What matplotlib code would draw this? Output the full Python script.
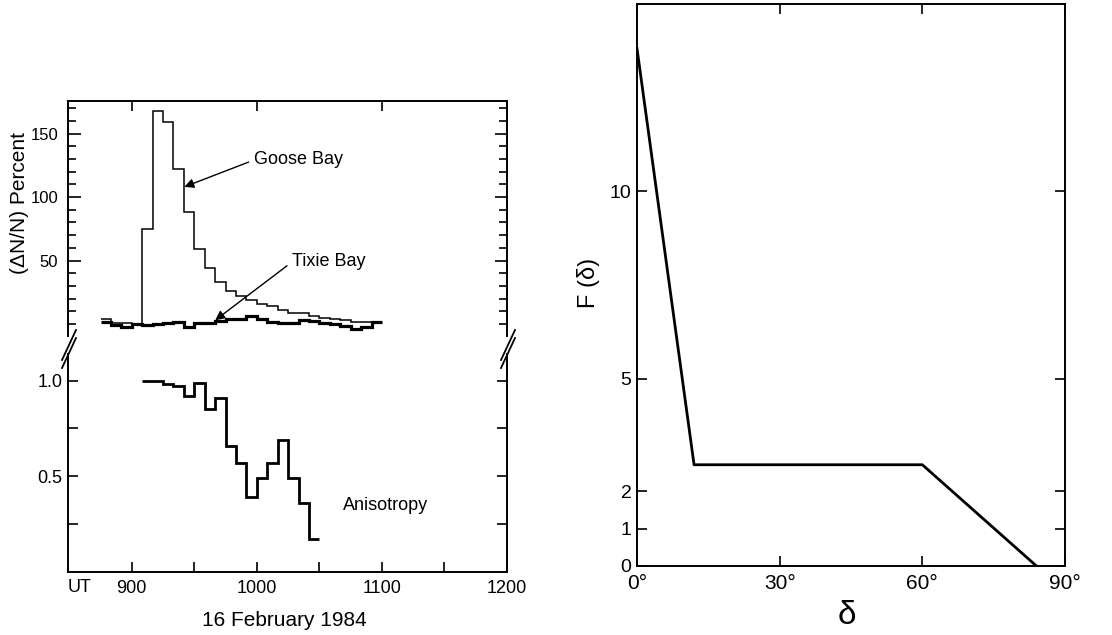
import numpy as np
import matplotlib
matplotlib.use("Agg")
import matplotlib.pyplot as plt
from matplotlib.lines import Line2D

plt.rcParams['font.family'] = ['Liberation Sans', 'DejaVu Sans']

# ---------------- data ----------------
bin_width_min = 5
rates_start_hour = 8.75            # 08:45 UT
goose_bay = [4, 1, 1, 0, 75, 168, 159, 122, 88, 59, 44, 33, 26, 22, 19, 16,
             14, 11, 9, 9, 6, 5, 4, 3, 2, 2, 2]
tixie_bay = [1.5, -1, -2, 0, -1, 0, 0.5, 1.5, -2, 1, 1, 2.5, 4, 4, 6.5, 4,
             2, 1, 0.5, 3, 2.5, 0.5, 0, -1.5, -4, -2.5, 1.5]
aniso_start_hour = 9 + 5 / 60      # 09:05 UT
anisotropy = [1.00, 1.00, 0.98, 0.97, 0.92, 0.99, 0.85, 0.91, 0.66, 0.57,
              0.39, 0.49, 0.57, 0.69, 0.49, 0.36, 0.17]

ut_ticks = [9, 10, 11, 12]
ut_labels = ['900', '1000', '1100', '1200']
ut_minor = [9.5, 10.5, 11.5]
pct_ticks = [50, 100, 150]
pct_labels = ['50', '100', '150']
pct_minor = list(range(0, 180, 10))
aniso_ticks = [0.5, 1.0]
aniso_labels = ['0.5', '1.0']
aniso_minor = [0.25, 0.75]

delta_deg = [0, 12, 60, 84]
f_delta = [13.8, 2.7, 2.7, 0]
delta_ticks = [0, 30, 60, 90]
delta_labels = ['0°', '30°', '60°', '90°']
f_ticks = [0, 1, 2, 5, 10]
f_labels = ['0', '1', '2', '5', '10']

# ---------------- figure ----------------
W, H = 1112, 635
fig = plt.figure(figsize=(W / 100, H / 100), dpi=100)


def fx(px):
    return px / W


def fy(py):
    return 1 - py / H


LW_SP = 1.4
ax_up = fig.add_axes([fx(68), fy(336), fx(507 - 68), (336 - 101) / H])
ax_lo = fig.add_axes([fx(68), fy(572), fx(507 - 68), (572 - 354) / H])
ax_r = fig.add_axes([fx(637), fy(566), fx(1065 - 637), (566 - 3.5) / H])

for ax in (ax_up, ax_lo, ax_r):
    for s in ax.spines.values():
        s.set_linewidth(LW_SP)

# upper: counting rates
edges = rates_start_hour + np.arange(len(goose_bay) + 1) * bin_width_min / 60
ax_up.stairs(goose_bay, edges, baseline=None, color='k', lw=1.1)
ax_up.stairs(tixie_bay, edges, baseline=None, color='k', lw=2.3)
ax_up.set_xlim(8.49, 12.0)
ax_up.set_ylim(-9.4, 175.6)
ax_up.spines['bottom'].set_visible(False)
ax_up.set_xticks(ut_ticks)
ax_up.set_xticklabels([])
ax_up.tick_params(axis='x', which='major', direction='in', bottom=False,
                  top=True, length=7, width=1.2, labelbottom=False)
ax_up.set_yticks(pct_ticks)
ax_up.set_yticklabels(pct_labels)
ax_up.set_yticks(pct_minor, minor=True)
ax_up.tick_params(axis='y', which='major', direction='in', left=True,
                  right=True, length=9, width=1.2, labelsize=12, pad=7)
ax_up.tick_params(axis='y', which='minor', direction='in', left=True,
                  right=True, length=5.5, width=1.2)

# lower: anisotropy
a_edges = aniso_start_hour + np.arange(len(anisotropy) + 1) * bin_width_min / 60
ax_lo.stairs(anisotropy, a_edges, baseline=None, color='k', lw=2.0)
ax_lo.set_xlim(8.49, 12.0)
ax_lo.set_ylim(0, 1.139)
ax_lo.spines['top'].set_visible(False)
ax_lo.set_xticks(ut_ticks)
ax_lo.set_xticklabels(ut_labels)
ax_lo.set_xticks(ut_minor, minor=True)
ax_lo.tick_params(axis='x', which='both', direction='in', bottom=True,
                  top=False, length=7, width=1.2, labelsize=13, pad=6)
ax_lo.set_yticks(aniso_ticks)
ax_lo.set_yticklabels(aniso_labels)
ax_lo.set_yticks(aniso_minor, minor=True)
ax_lo.tick_params(axis='y', which='both', direction='in', left=True,
                  right=True, length=7, width=1.2, labelsize=13, pad=4)

# axis break marks
for xc in (68, 507):
    for dy in (0, 8):
        fig.add_artist(Line2D([fx(xc - 6), fx(xc + 8)],
                              [fy(360 + dy), fy(330 + dy)],
                              color='k', lw=1.3,
                              transform=fig.transFigure))

# labels left panel
fig.text(fx(68), fy(587), 'UT', fontsize=13, ha='left', va='center')
fig.text(fx(284), fy(621), '16 February 1984', fontsize=15,
         ha='center', va='center')
fig.text(fx(20), fy(203), '(ΔN/N) Percent', fontsize=15, rotation=90,
         ha='center', va='center')

arrow_kw = dict(arrowstyle='-|>', color='k', lw=1.0, mutation_scale=14,
                shrinkA=2, shrinkB=0, relpos=(0, 0.5))
ax_up.annotate('Goose Bay', xy=(9.42, 108),
               xytext=(fx(254), fy(160)), textcoords='figure fraction',
               fontsize=13, ha='left', va='center', arrowprops=arrow_kw)
ax_up.annotate('Tixie Bay', xy=(9.667, 3),
               xytext=(fx(292), fy(262)), textcoords='figure fraction',
               fontsize=13, ha='left', va='center', arrowprops=arrow_kw)
fig.text(fx(343), fy(505), 'Anisotropy', fontsize=13, ha='left',
         va='center')

# right panel
ax_r.plot(delta_deg, f_delta, color='k', lw=2.0)
ax_r.set_xlim(0, 90)
ax_r.set_ylim(0, 15)
ax_r.set_xticks(delta_ticks)
ax_r.set_xticklabels(delta_labels)
ax_r.set_yticks(f_ticks)
ax_r.set_yticklabels(f_labels)
ax_r.tick_params(axis='x', direction='in', top=True, bottom=True, length=7,
                 width=1.2, labelsize=15, pad=6)
ax_r.tick_params(axis='y', direction='in', left=True, right=True, length=7,
                 width=1.2, labelsize=14, pad=4)
fig.text(fx(588), fy(283), 'F (δ)', fontsize=17, rotation=90,
         ha='center', va='center')
fig.text(fx(847), fy(615), 'δ', fontsize=24, ha='center', va='center')

fig.savefig('out.png', dpi=100)
